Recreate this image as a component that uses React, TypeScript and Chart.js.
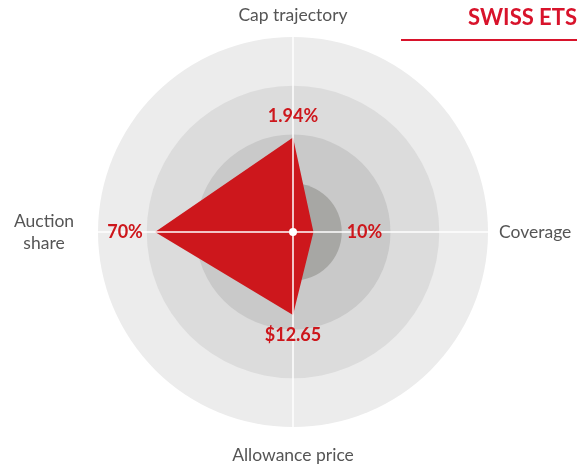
import React, { useEffect, useRef } from "react";
import { Chart, registerables } from "chart.js";

Chart.register(...registerables);

const axisLabels: string[][] = [["Cap trajectory"], ["Coverage"], ["Allowance price"], ["Auction", "share"]];
const values = [1.94, 0.42, 1.7, 2.83];
const valueLabels = ["1.94%", "10%", "$12.65", "70%"];
const ringValues = [4, 3, 2, 1];
const ringColors = ["#ececec", "#dcdcdc", "#c9c9c9", "#a7a7a4"];

const RED = "#cd171c";
const FONT = "Lato, 'Noto Sans', sans-serif";

// styling for drawn labels
const axisLabelPad = [22, 11, 28, 54];
const axisLabelAlign: CanvasTextAlign[] = ["center", "left", "center", "center"];
const valueLabelPad = [21, 51, 20, 30];

const decor = {
  id: "decor",
  beforeDraw(chart: any) {
    const s = chart.scales.r;
    const ctx = chart.ctx;
    ctx.save();
    ringValues.forEach((v, i) => {
      ctx.beginPath();
      ctx.arc(s.xCenter, s.yCenter, s.getDistanceFromCenterForValue(v), 0, Math.PI * 2);
      ctx.fillStyle = ringColors[i];
      ctx.fill();
    });
    ctx.restore();
  },
  afterDatasetsDraw(chart: any) {
    const s = chart.scales.r;
    const ctx = chart.ctx;
    ctx.save();
    ctx.strokeStyle = "#ffffff";
    ctx.lineWidth = 1.5;
    axisLabels.forEach((_, i) => {
      const p = s.getPointPosition(i, s.drawingArea);
      ctx.beginPath();
      ctx.moveTo(s.xCenter, s.yCenter);
      ctx.lineTo(p.x, p.y);
      ctx.stroke();
    });
    ctx.restore();
  },
  afterDraw(chart: any) {
    const s = chart.scales.r;
    const ctx = chart.ctx;
    ctx.save();
    // center dot
    ctx.beginPath();
    ctx.arc(s.xCenter, s.yCenter, 4, 0, Math.PI * 2);
    ctx.fillStyle = "#ffffff";
    ctx.fill();
    // axis labels
    ctx.fillStyle = "#555555";
    ctx.font = `17.5px ${FONT}`;
    ctx.textBaseline = "middle";
    axisLabels.forEach((lines, i) => {
      const p = s.getPointPosition(i, s.drawingArea + axisLabelPad[i]);
      ctx.textAlign = axisLabelAlign[i];
      const lh = 22;
      lines.forEach((t, j) => {
        ctx.fillText(t, p.x, p.y + (j - (lines.length - 1) / 2) * lh);
      });
    });
    // value labels
    ctx.fillStyle = RED;
    ctx.font = `bold 18px ${FONT}`;
    ctx.textAlign = "center";
    values.forEach((v, i) => {
      const p = s.getPointPosition(i, s.getDistanceFromCenterForValue(v) + valueLabelPad[i]);
      ctx.fillText(valueLabels[i], p.x, p.y);
    });
    ctx.restore();
  },
};

export default function App() {
  const ref = useRef<HTMLCanvasElement | null>(null);
  useEffect(() => {
    if (!ref.current) return;
    const chart = new Chart(ref.current, {
      type: "radar",
      data: {
        labels: axisLabels.map((l) => l.join(" ")),
        datasets: [
          {
            data: values,
            backgroundColor: RED,
            borderWidth: 0,
            fill: true,
            pointRadius: 0,
            pointHoverRadius: 0,
          },
        ],
      },
      options: {
        responsive: false,
        animation: false,
        layout: { padding: { top: 37, bottom: 40, left: 98, right: 94 } },
        plugins: { legend: { display: false }, tooltip: { enabled: false } },
        scales: {
          r: {
            min: 0,
            max: 4,
            ticks: { display: false, stepSize: 1 },
            grid: { display: false },
            angleLines: { display: false },
            pointLabels: { display: false },
          },
        },
      },
      plugins: [decor],
    });
    return () => chart.destroy();
  }, []);
  return (
    <div style={{ position: "absolute", left: 0, top: 0, width: 582, height: 468, background: "#ffffff" }}>
      <canvas ref={ref} width={582} height={468} style={{ position: "absolute", left: 0, top: 0 }} />
      <div
        style={{
          position: "absolute",
          right: 5,
          top: 3,
          fontFamily: FONT,
          fontWeight: 700,
          fontSize: 22,
          color: "#d8132b",
          lineHeight: "28px",
        }}
      >
        SWISS ETS
      </div>
      <div style={{ position: "absolute", left: 401, top: 39, width: 176, height: 2, background: "#d8132b" }} />
    </div>
  );
}
